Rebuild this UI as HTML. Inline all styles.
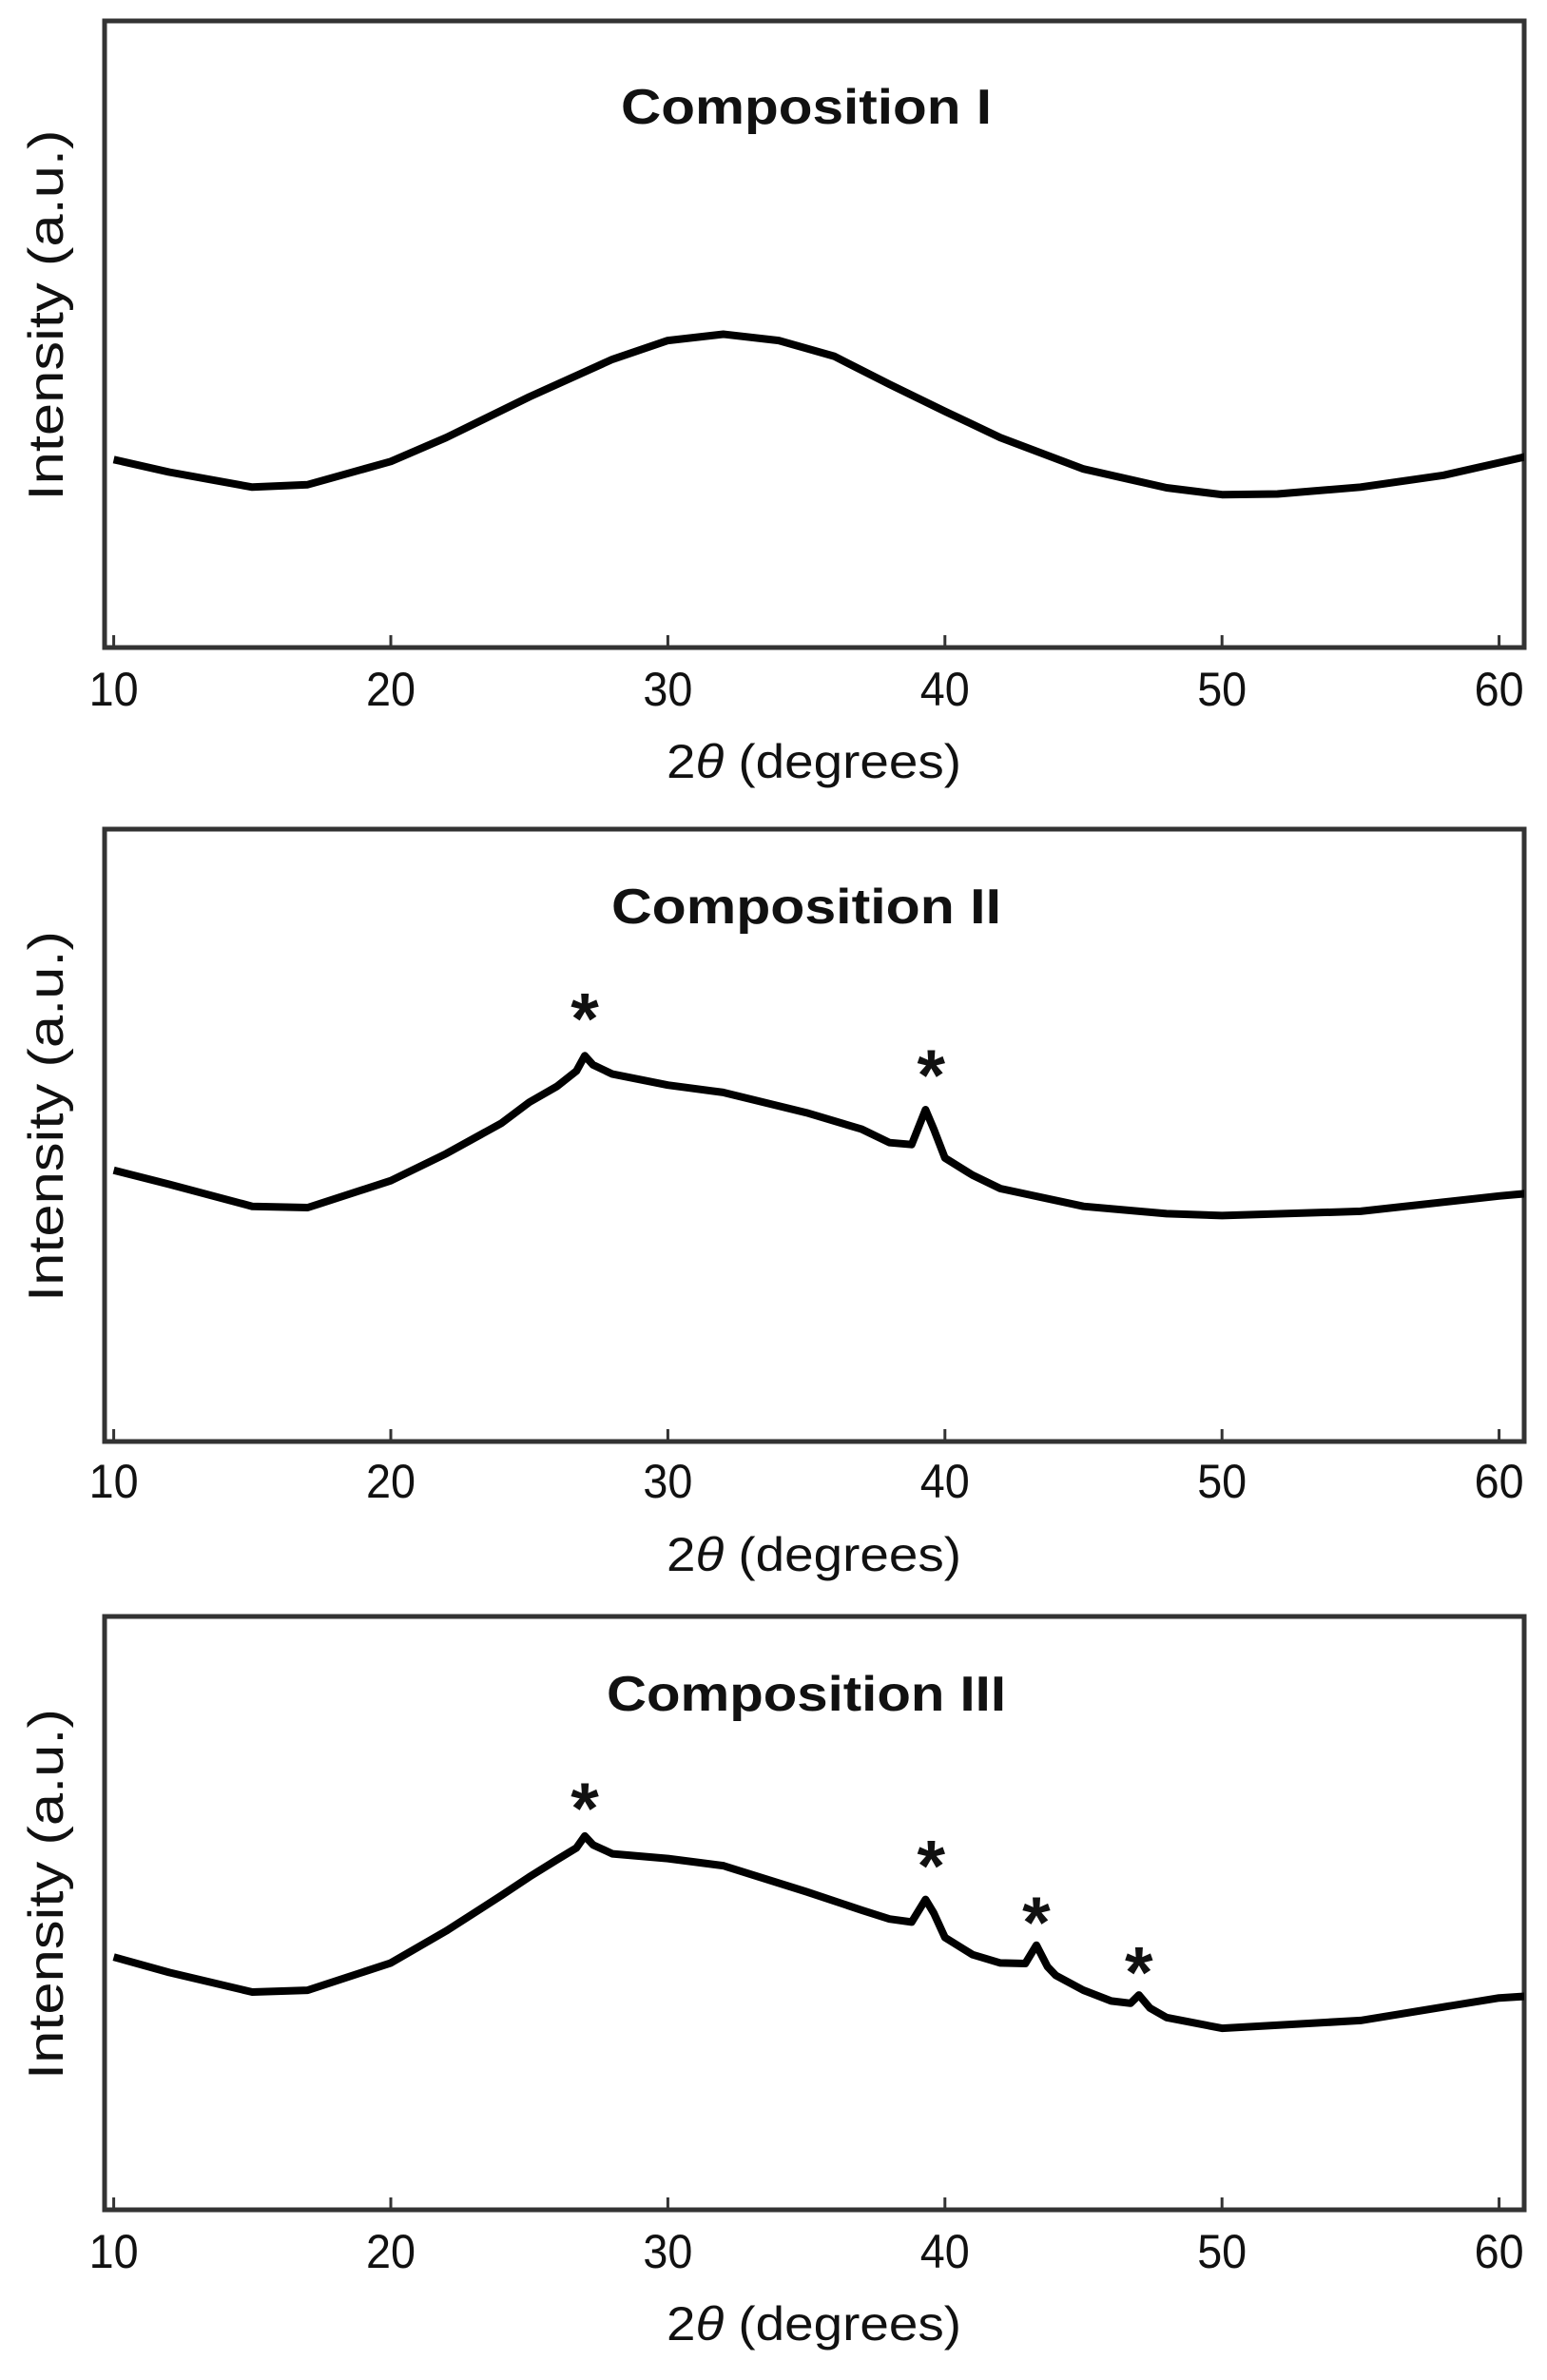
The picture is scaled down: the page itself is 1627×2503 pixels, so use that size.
<!DOCTYPE html>
<html><head><meta charset="utf-8"><style>
html,body{margin:0;padding:0;background:#fff}
svg{display:block}
text{font-family:"Liberation Sans",sans-serif;fill:#111}
</style></head><body>
<svg id="fig" width="1627" height="2503" viewBox="0 0 1627 2503" xmlns="http://www.w3.org/2000/svg"></svg>
<script>
const xTicks=[10,20,30,40,50,60];
const titles=["Composition I","Composition II","Composition III"];
const xs1=[10,12,15,17,20,22,25,28,30,32,34,36,38,40,42,45,48,50,52,55,58,60,61];
const ys1=[30,28,25.6,26,29.7,33.5,40,46,49,50,49,46.5,42,37.7,33.5,28.5,25.5,24.4,24.5,25.6,27.5,29.5,30.5];
const xs2=[10,12,15,17,20,22,24,25,26,26.7,27,27.3,28,30,32,35,37,38,38.8,39.3,39.6,40,41,42,45,48,50,55,60,61];
const ys2=[44.3,42,38.4,38.2,42.6,47,52,55.4,58,60.5,63,61.5,60,58.2,57,53.7,51,48.8,48.5,54.2,51,46.3,43.5,41.3,38.4,37.2,36.9,37.6,40.1,40.5];
const xs3=[10,12,15,17,20,22,24,25,26,26.7,27,27.3,28,30,32,35,37,38,38.8,39.3,39.6,40,41,42,42.9,43.3,43.7,44,45,46,46.7,47,47.4,48,50,55,60,61];
const ys3=[42.6,40,36.7,37,41.6,47,53,56.1,59,61,63,61.5,60,59.2,58,53.6,50.5,49,48.5,52.3,50,45.9,43,41.6,41.5,44.6,41,39.5,37,35.2,34.8,36.2,34,32.4,30.6,31.9,35.7,36];
const starX2=[27,39.5];
const starY2=[70.3,61];
const starX3=[27,39.5,43.3,47];
const starY3=[68.9,59.2,49.7,41.3];

const NS="http://www.w3.org/2000/svg";
const svg=document.getElementById('fig');
function mk(tag,attrs,parent){const e=document.createElementNS(NS,tag);for(const k in attrs)e.setAttribute(k,attrs[k]);(parent||svg).appendChild(e);return e;}
const L=110,R=1603;
const panels=[
 {top:22,bot:681,tick:724,xt:801,title:111,xs:xs1,ys:ys1,sx:[],sy:[]},
 {top:872,bot:1516,tick:1557,xt:1635,title:952,xs:xs2,ys:ys2,sx:starX2,sy:starY2},
 {top:1700,bot:2324,tick:2367,xt:2444,title:1780,xs:xs3,ys:ys3,sx:starX3,sy:starY3}
];
function xScale(v){return Math.max(110,411+(v-20)*29.14);}
panels.forEach((p,i)=>{
 const g=mk('g',{});
 
 
 const yScale=v=>p.bot-(v/100)*(p.bot-p.top);
 const fr=mk('rect',{x:L,y:p.top,width:R-L,height:p.bot-p.top,fill:'none',stroke:'#333','stroke-width':5},g);
 
 
 xTicks.forEach(t=>{
  const tl=mk('line',{x1:xScale(t),x2:xScale(t),y1:p.bot,y2:p.bot-13,stroke:'#333','stroke-width':3},g);
  
  
  const tx=mk('text',{x:xScale(t),y:p.tick+18,'text-anchor':'middle','font-size':50,textLength:52,lengthAdjust:'spacingAndGlyphs'},g);
  tx.textContent=t;
  
  
 });
 const xt=mk('text',{x:856,y:p.xt+17,'text-anchor':'middle','font-size':50,textLength:310,lengthAdjust:'spacingAndGlyphs'},g);
 xt.innerHTML='2<tspan font-style="italic">θ</tspan> (degrees)';
 
 
 const yt=mk('text',{x:0,y:0,'text-anchor':'middle','font-size':52,textLength:390,lengthAdjust:'spacingAndGlyphs',transform:`translate(66,${(p.top+p.bot)/2-20}) rotate(-90)`},g);
 yt.textContent='Intensity (a.u.)';
 
 
 const tt=mk('text',{x:848,y:p.title+19,'text-anchor':'middle','font-size':52,'font-weight':'bold',textLength:[390,410,420][i],lengthAdjust:'spacingAndGlyphs'},g);
 tt.textContent=titles[i];
 
 
 const d=p.xs.map((x,j)=>(j?'L':'M')+xScale(x).toFixed(1)+','+yScale(p.ys[j]).toFixed(1)).join(' ');
 const cl=mk('clipPath',{id:'c'+i},g);
 mk('rect',{x:L,y:p.top,width:R-L,height:p.bot-p.top},cl);
 const path=mk('path',{d:d,fill:'none',stroke:'#000','stroke-width':8,'stroke-linejoin':'round','clip-path':`url(#c${i})`},g);
 
 
 p.sx.forEach((sx,j)=>{
  const s=mk('text',{x:xScale(sx),y:yScale(p.sy[j])+34,'text-anchor':'middle','font-size':76,'font-weight':'bold'},g);
  s.textContent='*';
  
  
 });
});
</script>
</body></html>
